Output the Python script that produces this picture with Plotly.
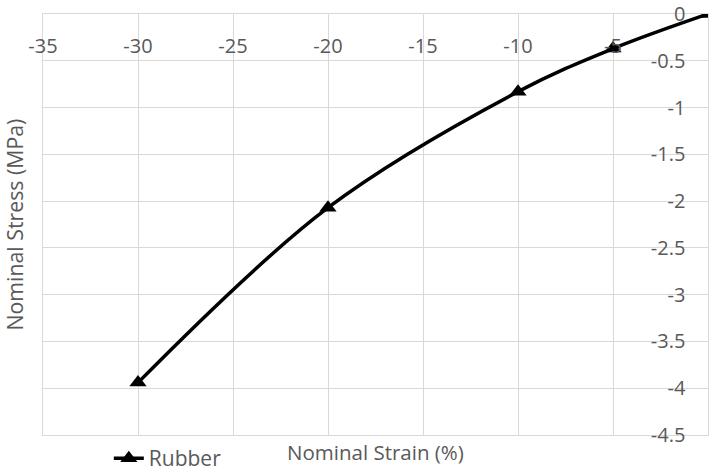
import plotly.graph_objects as go

strain = [0, -5, -10, -20, -30]
stress = [0, -0.37, -0.83, -2.07, -3.94]
x_ticks = [-35, -30, -25, -20, -15, -10, -5, 0]
x_labels = ["-35", "-30", "-25", "-20", "-15", "-10", "-5", "0"]
y_ticks = [0, -0.5, -1, -1.5, -2, -2.5, -3, -3.5, -4, -4.5]
y_labels = ["0", "-0.5", "-1", "-1.5", "-2", "-2.5", "-3", "-3.5", "-4", "-4.5"]
series_name = "Rubber"
x_title = "Nominal Strain (%)"
y_title = "Nominal Stress (MPa)"

FONT = "Open Sans"
TXT = "#595959"
GRID = "#d9d9d9"

fig = go.Figure()
fig.add_trace(go.Scatter(
    x=strain, y=stress, name=series_name, mode="lines+markers",
    line=dict(color="black", width=3.5, shape="spline"),
    marker=dict(symbol="triangle-up", size=15, color="black"),
))
fig.add_trace(go.Scatter(x=[None], y=[None], xaxis="x2", yaxis="y2",
                         showlegend=False, hoverinfo="skip"))

fig.update_layout(
    width=711, height=473,
    margin=dict(l=43, r=3, t=14, b=38, autoexpand=False),
    paper_bgcolor="white", plot_bgcolor="white",
    font=dict(family=FONT, size=20, color=TXT),
    showlegend=True,
    legend=dict(orientation="h", x=0.099, xanchor="left", y=-0.056, yanchor="middle",
                font=dict(size=21, color=TXT), bgcolor="rgba(0,0,0,0)"),
    xaxis=dict(range=[-35, 0], tickvals=x_ticks, showticklabels=False,
               showgrid=True, gridcolor=GRID, gridwidth=1, zeroline=False,
               showline=True, mirror=True, linecolor=GRID, linewidth=1,
               ticks="", automargin=False),
    yaxis=dict(range=[-4.5, 0], tickvals=y_ticks, showticklabels=False,
               showgrid=True, gridcolor=GRID, gridwidth=1, zeroline=False,
               showline=True, mirror=True, linecolor=GRID, linewidth=1,
               ticks="", automargin=False),
    xaxis2=dict(range=[-35, 0], tickvals=x_ticks, ticktext=x_labels,
                overlaying="x", anchor="free",
                position=0.958, side="bottom", showgrid=False, zeroline=False,
                showline=False, ticks="", automargin=False,
                tickfont=dict(size=20, color=TXT)),
    yaxis2=dict(range=[-4.5, 0], tickvals=y_ticks, ticktext=y_labels,
                overlaying="y", anchor="free",
                position=0.966, side="left", showgrid=False, zeroline=False,
                showline=False, ticks="", automargin=False,
                tickfont=dict(size=20, color=TXT)),
    annotations=[
        dict(text=x_title, xref="paper", yref="paper", x=0.5, y=-0.0404,
             xanchor="center", yanchor="middle", showarrow=False,
             font=dict(size=20.5, color=TXT)),
        dict(text=y_title, xref="paper", yref="paper", x=-0.0436, y=0.5,
             xanchor="center", yanchor="middle", textangle=-90, showarrow=False,
             font=dict(size=21.3, color=TXT)),
    ],
)

fig.write_html("out.html")
